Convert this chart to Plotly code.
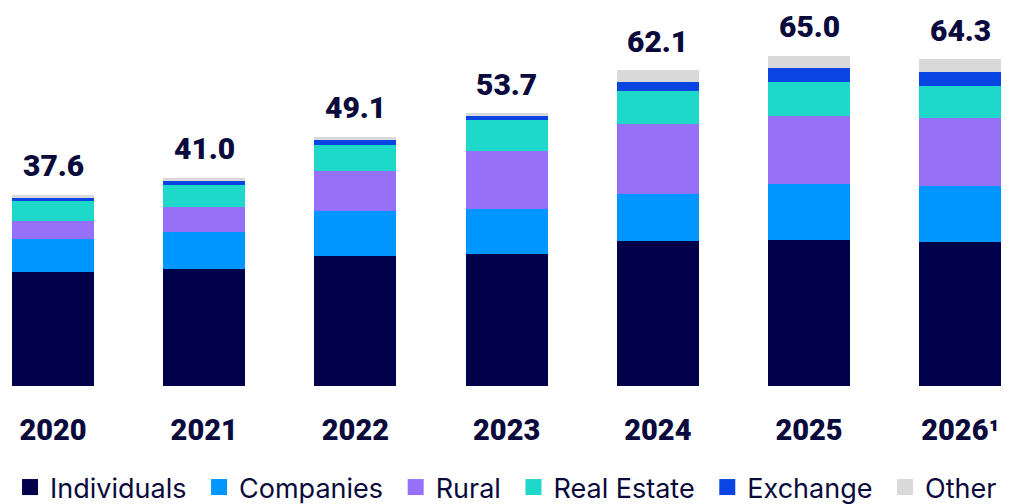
import plotly.graph_objects as go

years = ["2020", "2021", "2022", "2023", "2024", "2025", "2026¹"]

individuals = [22.4, 23.1, 25.5, 26.0, 28.6, 28.8, 28.4]
companies = [6.5, 7.3, 8.9, 8.9, 9.1, 11.0, 10.9]
rural = [3.5, 4.8, 7.9, 11.4, 13.8, 13.4, 13.4]
real_estate = [4.1, 4.4, 5.1, 6.0, 6.6, 6.6, 6.4]
exchange = [0.5, 0.8, 1.1, 0.9, 1.8, 2.7, 2.7]
other = [0.6, 0.6, 0.6, 0.5, 2.2, 2.5, 2.5]
totals = [37.6, 41.0, 49.1, 53.7, 62.1, 65.0, 64.3]

series = [
    ("Individuals", individuals, "#00004B"),
    ("Companies", companies, "#0096FF"),
    ("Rural", rural, "#9671F8"),
    ("Real Estate", real_estate, "#1ED8C9"),
    ("Exchange", exchange, "#0A44E2"),
    ("Other", other, "#D9D9D9"),
]

NAVY = "#0A0A3C"
FONT = "Inter"
NUM_FONT = "Roboto"

fig = go.Figure()
for k, (name, values, color) in enumerate(series):
    fig.add_trace(
        go.Bar(
            x=years,
            y=values,
            name=name,
            marker=dict(color=color, line=dict(width=0)),
            width=0.542,
            showlegend=False,
        )
    )
    # legend entry with a bigger square than the bar default;
    # a trailing no-break space widens the gap between entries
    label = name if k == len(series) - 1 else name + "\u00a0"
    fig.add_trace(
        go.Scatter(
            x=[None],
            y=[None],
            mode="markers",
            name=label,
            marker=dict(symbol="square", size=16, color=color),
        )
    )

# totals above each bar (x by index: "2020" would be read as a number)
for i, total in enumerate(totals):
    fig.add_annotation(
        x=i,
        y=total,
        text=f"{total:.1f}",
        showarrow=False,
        yanchor="middle",
        yshift=29,
        font=dict(family=NUM_FONT, size=30, color=NAVY, weight=900),
    )

fig.update_layout(
    width=1015,
    height=504,
    barmode="stack",
    plot_bgcolor="white",
    paper_bgcolor="white",
    margin=dict(l=0, r=0, t=0, b=126),
    xaxis=dict(
        type="category",
        range=[-0.2976, 6.415],
        showgrid=False,
        showline=False,
        zeroline=False,
        ticks="",
        ticklabelstandoff=24,
        tickfont=dict(family=NUM_FONT, size=29, color=NAVY, weight=900),
    ),
    yaxis=dict(
        range=[0, 74.4],
        visible=False,
    ),
    legend=dict(
        orientation="h",
        x=0.002,
        xanchor="left",
        y=-0.27,
        yanchor="middle",
        font=dict(family=FONT, size=27, color=NAVY),
        itemsizing="trace",
        traceorder="normal",
    ),
    showlegend=True,
)

fig.write_html("out.html")
